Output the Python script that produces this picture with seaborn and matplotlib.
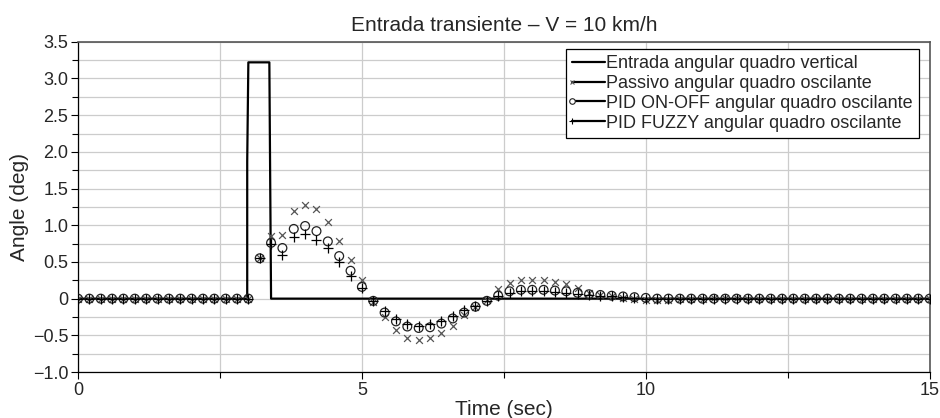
import numpy as np
import pandas as pd
import matplotlib
matplotlib.use("Agg")
import matplotlib.pyplot as plt
import seaborn as sns
from matplotlib.lines import Line2D
from matplotlib.legend_handler import HandlerLine2D
from matplotlib.ticker import MultipleLocator, FuncFormatter

# ---------------- data ----------------
time = [0.0, 0.2, 0.4, 0.6, 0.8, 1.0, 1.2, 1.4, 1.6, 1.8,
        2.0, 2.2, 2.4, 2.6, 2.8, 3.0, 3.2, 3.4, 3.6, 3.8,
        4.0, 4.2, 4.4, 4.6, 4.8, 5.0, 5.2, 5.4, 5.6, 5.8,
        6.0, 6.2, 6.4, 6.6, 6.8, 7.0, 7.2, 7.4, 7.6, 7.8,
        8.0, 8.2, 8.4, 8.6, 8.8, 9.0, 9.2, 9.4, 9.6, 9.8,
        10.0, 10.2, 10.4, 10.6, 10.8, 11.0, 11.2, 11.4, 11.6, 11.8,
        12.0, 12.2, 12.4, 12.6, 12.8, 13.0, 13.2, 13.4, 13.6, 13.8,
        14.0, 14.2, 14.4, 14.6, 14.8, 15.0]

passivo = [0, 0, 0, 0, 0, 0, 0, 0, 0, 0,
           0, 0, 0, 0, 0, 0, 0.55, 0.85, 0.87, 1.20,
           1.28, 1.22, 1.04, 0.79, 0.53, 0.25, -0.04, -0.25, -0.43, -0.53,
           -0.56, -0.53, -0.47, -0.37, -0.22, -0.11, -0.02, 0.13, 0.21, 0.25,
           0.26, 0.25, 0.22, 0.20, 0.14, 0.08, 0.05, 0.03, 0.01, -0.01,
           -0.02, -0.02, -0.02, -0.01, -0.01, 0.0, 0.01, 0.01, 0.01, 0.0,
           0, 0, 0, 0, 0, 0, 0, 0, 0, 0,
           0, 0, 0, 0, 0, 0]

pid_onoff = [0, 0, 0, 0, 0, 0, 0, 0, 0, 0,
             0, 0, 0, 0, 0, 0, 0.55, 0.76, 0.69, 0.95,
             0.99, 0.92, 0.78, 0.58, 0.38, 0.16, -0.03, -0.19, -0.31, -0.38,
             -0.40, -0.39, -0.34, -0.27, -0.19, -0.11, -0.03, 0.04, 0.10, 0.12,
             0.12, 0.12, 0.11, 0.10, 0.08, 0.06, 0.05, 0.04, 0.03, 0.02,
             0.01, 0.0, 0.0, 0.0, 0.0, 0.0, 0.0, 0.0, 0.0, 0.0,
             0, 0, 0, 0, 0, 0, 0, 0, 0, 0,
             0, 0, 0, 0, 0, 0]

pid_fuzzy = [0, 0, 0, 0, 0, 0, 0, 0, 0, 0,
             0, 0, 0, 0, 0, 0, 0.55, 0.74, 0.60, 0.84,
             0.88, 0.80, 0.69, 0.50, 0.31, 0.14, -0.03, -0.17, -0.28, -0.34,
             -0.37, -0.35, -0.30, -0.24, -0.16, -0.10, -0.03, 0.03, 0.08, 0.10,
             0.10, 0.10, 0.09, 0.08, 0.07, 0.05, 0.04, 0.03, 0.02, 0.01,
             0.0, 0.0, 0.0, 0.0, 0.0, 0.0, 0.0, 0.0, 0.0, 0.0,
             0, 0, 0, 0, 0, 0, 0, 0, 0, 0,
             0, 0, 0, 0, 0, 0]

input_time = [0.0, 2.98, 2.98, 3.0, 3.37, 3.38, 3.40, 15.0]
input_angle = [0.0, 0.0, 1.87, 3.22, 3.22, 2.12, 0.0, 0.0]

labels = ["Entrada angular quadro vertical",
          "Passivo angular quadro oscilante",
          "PID ON-OFF angular quadro oscilante",
          "PID FUZZY angular quadro oscilante"]

title = "Entrada transiente \u2013 V = 10 km/h"
xlabel = "Time (sec)"
ylabel = "Angle (deg)"

# ---------------- plot ----------------
sns.set_style("white")
plt.rcParams['font.family'] = ['Liberation Sans', 'DejaVu Sans']

fig = plt.figure(figsize=(9.4, 4.18), dpi=100)
ax = fig.add_axes([0.083, 0.110, 0.906, 0.790])

df_in = pd.DataFrame({"t": input_time, "v": input_angle})
df = pd.DataFrame({"t": time, "p": passivo, "o": pid_onoff, "f": pid_fuzzy})

sns.lineplot(data=df_in, x="t", y="v", sort=False, estimator=None,
             color="black", lw=1.6, ax=ax, zorder=5)
sns.scatterplot(data=df, x="t", y="p", marker="x", s=24, color="#555555",
                linewidth=0.9, ax=ax, zorder=6)
sns.scatterplot(data=df, x="t", y="o", marker="o", s=40, facecolor="none",
                edgecolor="#222222", linewidth=0.9, ax=ax, zorder=7)
sns.scatterplot(data=df, x="t", y="f", marker="+", s=50, color="black",
                linewidth=0.9, ax=ax, zorder=8)

ax.set_xlim(0, 15)
ax.set_ylim(-1.0, 3.5)
ax.xaxis.set_major_locator(MultipleLocator(5))
ax.xaxis.set_minor_locator(MultipleLocator(2.5))
ax.yaxis.set_major_locator(MultipleLocator(0.5))
ax.yaxis.set_minor_locator(MultipleLocator(0.25))

def yfmt(v, pos):
    if abs(v) < 1e-9:
        return "0"
    s = f"{v:.1f}"
    return s.replace("-", "\u2212")

ax.yaxis.set_major_formatter(FuncFormatter(yfmt))
ax.xaxis.set_major_formatter(FuncFormatter(lambda v, p: f"{v:.0f}"))

ax.grid(True, which="both", axis="y", color="#cccccc", lw=0.9)
ax.grid(True, which="both", axis="x", color="#cccccc", lw=0.9)
ax.set_axisbelow(True)

ax.tick_params(axis="both", which="major", direction="out", length=5, width=0.8,
               labelsize=13, color="black", pad=2, left=True, bottom=True)
ax.tick_params(axis="both", which="minor", direction="out", length=4, width=0.8,
               color="black", left=True, bottom=True)

for s in ["left", "bottom"]:
    ax.spines[s].set_color("black")
    ax.spines[s].set_linewidth(0.9)
for s in ["top", "right"]:
    ax.spines[s].set_color("#555555")
    ax.spines[s].set_linewidth(1.2)

ax.set_title(title, fontsize=15, pad=8)
ax.set_xlabel(xlabel, fontsize=15, labelpad=1)
ax.set_ylabel(ylabel, fontsize=15, labelpad=3)


class LeftMarkerHandler(HandlerLine2D):
    def create_artists(self, legend, orig_handle, xdescent, ydescent, width,
                       height, fontsize, trans):
        y = (height - ydescent) / 2.0
        x0 = -xdescent
        x1 = -xdescent + width
        ln = Line2D([x0, x1], [y, y], color="black", lw=1.6)
        artists = [ln]
        m = orig_handle.get_marker()
        if m not in (None, "None", "", " "):
            mk = Line2D([x0], [y], marker=m, ls="none",
                        markersize=orig_handle.get_markersize(),
                        markerfacecolor=orig_handle.get_markerfacecolor(),
                        markeredgecolor=orig_handle.get_markeredgecolor(),
                        markeredgewidth=orig_handle.get_markeredgewidth())
            artists.append(mk)
        for a in artists:
            a.set_transform(trans)
        return artists


handles = [
    Line2D([], [], color="black", lw=1.6),
    Line2D([], [], color="black", marker="x", markersize=3.5,
           markeredgecolor="#555555", markeredgewidth=0.8, ls="-"),
    Line2D([], [], color="black", marker="o", markersize=4,
           markerfacecolor="white", markeredgecolor="#222222",
           markeredgewidth=0.8, ls="-"),
    Line2D([], [], color="black", marker="+", markersize=5,
           markeredgecolor="black", markeredgewidth=0.8, ls="-"),
]
leg = ax.legend(handles, labels, loc="upper right", bbox_to_anchor=(0.988, 0.978),
                fontsize=13, frameon=True, fancybox=False, framealpha=1,
                edgecolor="black", handlelength=1.8, handletextpad=0.1,
                labelspacing=0.15, borderpad=0.35, borderaxespad=0,
                handler_map={Line2D: LeftMarkerHandler()})
leg.get_frame().set_linewidth(0.9)
leg.set_zorder(20)

fig.savefig("out.png", dpi=100)
